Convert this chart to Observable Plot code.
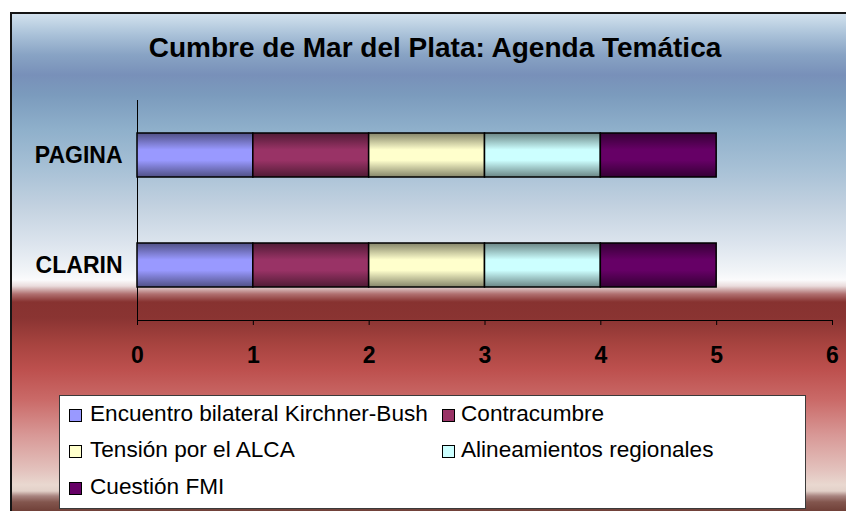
<!DOCTYPE html>
<html>
<head>
<meta charset="utf-8">
<script src="https://cdn.jsdelivr.net/npm/d3@7"></script>
<script src="https://cdn.jsdelivr.net/npm/@observablehq/plot@0.6"></script>
<style>
  html, body { margin: 0; padding: 0; background: #fff; }
  body { width: 846px; height: 511px; overflow: hidden; position: relative;
         font-family: "Liberation Sans", Arial, sans-serif; }
  #bg { position: absolute; left: 10px; top: 12px; width: 850px; height: 510px;
        box-sizing: border-box; border-top: 2px solid #151515; border-left: 2px solid #151515;
        background-origin: border-box;
        background-image: linear-gradient(to bottom,
          #d4e3ef 1px, #a9c1d8 23px, #88a3c4 43px, #7890b9 63px, #7b9bbd 83px,
          #8fb0cb 118px, #a8c1d6 158px, #c5d3e1 198px, #dde5ee 233px, #f2f5f8 260px,
          #fbfbfc 268px, #eadcdc 274px, #b07070 282px, #873230 290px, #8a3432 306px,
          #a84440 333px, #bd504e 358px, #ca6a68 388px, #d89896 423px, #e3c2bd 458px,
          #e9d8d0 473px, #e2d0c8 479px, #a88480 484px, #83564e 490px, #704038 499px); }
  #chart { position: absolute; left: 0; top: 0; }
  #title { position: absolute; left: 0; top: 34px; width: 870px; text-align: center;
           font-size: 28px; line-height: 28px; font-weight: bold; color: #000; white-space: nowrap; }
  #legend { position: absolute; left: 59px; top: 395px; width: 747px; height: 114px;
            box-sizing: border-box; border: 1px solid #3a3a3a; background: #fff; }
  .item { position: absolute; font-size: 22.6px; line-height: 22px; color: #000; white-space: nowrap; }
  .sw { position: absolute; width: 13px; height: 13px; box-sizing: border-box; border: 1px solid #000; }
</style>
</head>
<body>
<div id="bg"></div>
<div id="chart"></div>
<div id="title"></div>
<div id="legend"></div>
<script>
const chartTitle = "Cumbre de Mar del Plata: Agenda Temática";
const outlets = ["PAGINA", "CLARIN"];
const themes = ["Encuentro bilateral Kirchner-Bush", "Contracumbre", "Tensión por el ALCA", "Alineamientos regionales", "Cuestión FMI"];
const themeColors = ["#9999FF", "#993366", "#FFFFCC", "#CCFFFF", "#660066"];
const paginaValues = [1, 1, 1, 1, 1];
const clarinValues = [1, 1, 1, 1, 1];
const xTicks = [0, 1, 2, 3, 4, 5, 6];

const seriesByOutlet = { PAGINA: paginaValues, CLARIN: clarinValues };
const rows = [];
for (const o of outlets) themes.forEach((t, i) => rows.push({ outlet: o, theme: t, value: seriesByOutlet[o][i] }));

const plot = Plot.plot({
  width: 846, height: 380,
  marginLeft: 137, marginRight: 14, marginTop: 100, marginBottom: 60,
  style: { background: "transparent", fontSize: "23px", fontWeight: "bold",
           fontFamily: "'Liberation Sans', Arial, sans-serif", color: "#000", overflow: "visible" },
  x: { domain: [0, 6], ticks: xTicks, tickSize: 5, tickPadding: 21, line: true, label: null, tickFormat: d => String(d) },
  y: { domain: outlets, paddingInner: 0.6, paddingOuter: 0.3, tickSize: 0, tickPadding: 15, line: true, label: null },
  color: { domain: themes, range: themes.map((_, i) => `url(#grad${i})`) },
  marks: [
    Plot.barX(rows, { x: "value", y: "outlet", fill: "theme", stroke: "#000", strokeWidth: 1.5 })
  ]
});

const defs = d3.select(plot).insert("defs", ":first-child");
themeColors.forEach((c, i) => {
  const base = d3.rgb(c); const k = 0.52;
  const dk = d3.rgb(base.r * k, base.g * k, base.b * k).formatHex();
  const g = defs.append("linearGradient").attr("id", `grad${i}`)
    .attr("x1", 0).attr("y1", 0).attr("x2", 0).attr("y2", 1);
  g.append("stop").attr("offset", "0").attr("stop-color", dk);
  g.append("stop").attr("offset", "0.38").attr("stop-color", c);
  g.append("stop").attr("offset", "0.62").attr("stop-color", c);
  g.append("stop").attr("offset", "1").attr("stop-color", dk);
});
document.getElementById("chart").appendChild(plot);

document.getElementById("title").textContent = chartTitle;

const legend = document.getElementById("legend");
const cols = [68, 441], textCols = [89, 460], rowTops = [402, 438, 475];
themes.forEach((t, i) => {
  const col = i % 2, row = Math.floor(i / 2);
  const sw = document.createElement("div");
  sw.className = "sw";
  sw.style.left = (cols[col] - 59) + "px";
  sw.style.top = (rowTops[row] + 6 - 395) + "px";
  sw.style.background = themeColors[i];
  legend.appendChild(sw);
  const tx = document.createElement("div");
  tx.className = "item";
  tx.style.left = (textCols[col] - 59) + "px";
  tx.style.top = (rowTops[row] - 395) + "px";
  tx.textContent = t;
  legend.appendChild(tx);
});
</script>
</body>
</html>
